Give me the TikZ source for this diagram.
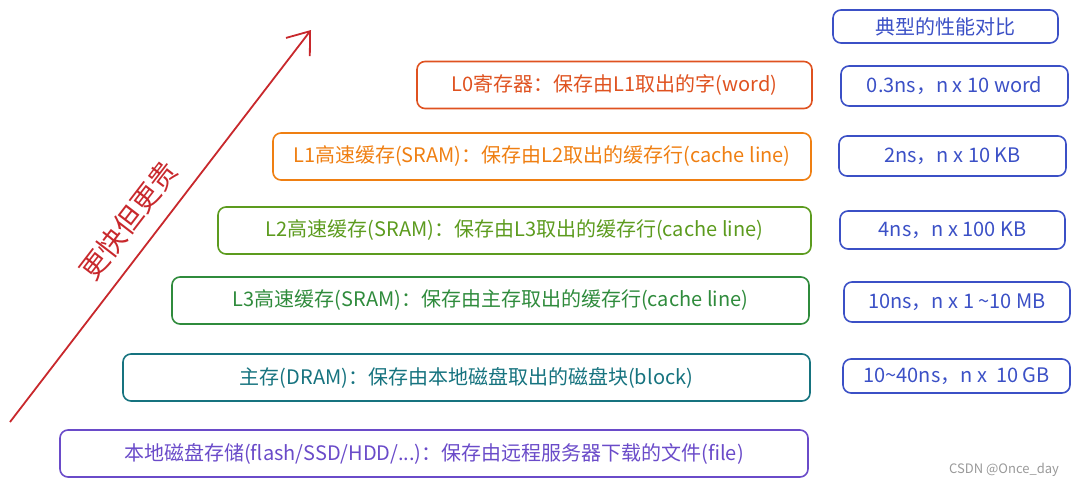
\documentclass[tikz,border=0pt]{standalone}
\usepackage{fontspec}
\setmainfont{Noto Sans CJK SC}
\usetikzlibrary{arrows.meta}

\definecolor{regred}{HTML}{DF5220}
\definecolor{lonecol}{HTML}{EF7F12}
\definecolor{ltwocol}{HTML}{5C9B1E}
\definecolor{lthreecol}{HTML}{2F8B3C}
\definecolor{dramcol}{HTML}{16737F}
\definecolor{diskcol}{HTML}{6A4BC9}
\definecolor{perfblue}{HTML}{3B50C6}
\definecolor{arrowred}{HTML}{C8282C}

\begin{document}
\begin{tikzpicture}[x=0.5pt,y=-0.5pt,
  tierbox/.style={draw, rounded corners=4pt, line width=0.8pt, minimum height=23.5pt,
    inner sep=0pt, font=\fontsize{10}{12}\selectfont},
  perfbox/.style={draw=perfblue, text=perfblue, rounded corners=4pt, line width=0.8pt,
    inner sep=0pt, font=\fontsize{10}{12}\selectfont}]
\useasboundingbox (0,0) rectangle (1080,487);

% Memory hierarchy, top to bottom
\node[tierbox, draw=regred, text=regred, minimum width=197.5pt] (lzero) at (614.5,85) {L0寄存器：保存由L1取出的字(word)};
\node[tierbox, draw=lonecol, text=lonecol, minimum width=269pt] (lone) at (542,156.5) {L1高速缓存(SRAM)：保存由L2取出的缓存行(cache line)};
\node[tierbox, draw=ltwocol, text=ltwocol, minimum width=296.5pt] (ltwo) at (514.5,230.5) {L2高速缓存(SRAM)：保存由L3取出的缓存行(cache line)};
\node[tierbox, draw=lthreecol, text=lthreecol, minimum width=318.5pt] (lthree) at (490.5,300.5) {L3高速缓存(SRAM)：保存由主存取出的缓存行(cache line)};
\node[tierbox, draw=dramcol, text=dramcol, minimum width=343.5pt] (dram) at (466.5,377.5) {主存(DRAM)：保存由本地磁盘取出的磁盘块(block)};
\node[tierbox, draw=diskcol, text=diskcol, minimum width=374pt] (disk) at (434,453.5) {本地磁盘存储(flash/SSD/HDD/...)：保存由远程服务器下载的文件(file)};

% Typical performance, right column
\node[perfbox, minimum width=112.5pt, minimum height=16.5pt] (perf) at (945.5,26.5) {典型的性能对比};
\node[perfbox, minimum width=113.5pt, minimum height=20pt] (pzero) at (954.5,86) {0.3ns，n x 10 word};
\node[perfbox, minimum width=113.5pt, minimum height=20pt] (pone) at (952.5,156) {2ns，n x 10 KB};
\node[perfbox, minimum width=112.5pt, minimum height=19pt] (ptwo) at (952.5,230) {4ns，n x 100 KB};
\node[perfbox, minimum width=113pt, minimum height=20pt] (pthree) at (957,302) {10ns，n x 1 \textasciitilde10 MB};
\node[perfbox, minimum width=113.5pt, minimum height=17pt] (pdram) at (956.5,376) {10\textasciitilde40ns，n x\ \ 10 GB};

% Faster but more expensive
\coordinate (slow) at (10,422);
\coordinate (fast) at (311,30);
\draw[arrowred, line width=0.9pt, -{Straight Barb[length=10pt, width=15pt, line width=0.9pt]}] (slow) -- (fast)
  node[pos=0.47, sloped, above=4pt, text=arrowred, font=\fontsize{14}{16}\selectfont] (speed) {更快但更贵};

% Watermark
\node[text=gray!80, font=\fontsize{6.5}{8}\selectfont, anchor=east] (mark) at (1066,470) {CSDN @Once\_day};
\end{tikzpicture}
\end{document}
